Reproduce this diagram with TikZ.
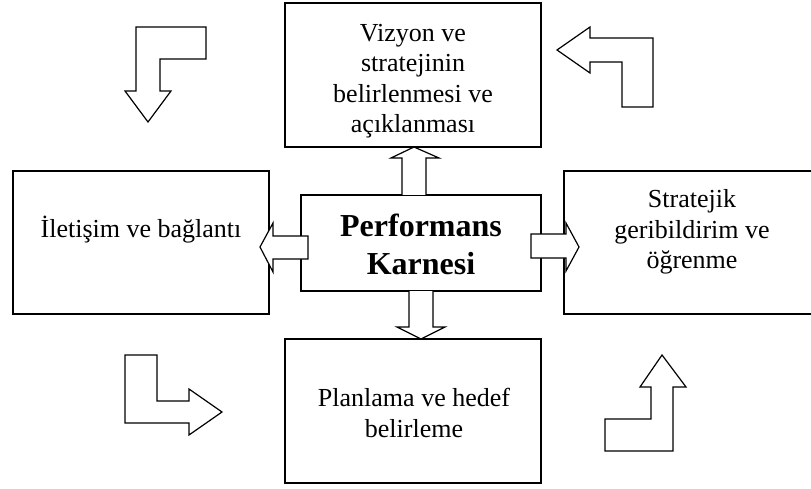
\documentclass[tikz,border=0pt]{standalone}
\usepackage{fontspec}
\setmainfont{Liberation Serif}
\begin{document}
\begin{tikzpicture}[x=1pt,y=-1pt,
  box/.style={draw,line width=1.2pt},
  blockarrow/.style={draw,fill=white,line width=1.2pt,line join=miter},
  txt/.style={align=center,inner sep=0pt,font=\fontsize{26}{30.5}\selectfont},
  bigtxt/.style={align=center,inner sep=0pt,font=\fontsize{32}{38}\selectfont\bfseries}]
\useasboundingbox (0,0) rectangle (811,489);

% boxes
\draw[box] (285,3) rectangle (541,147);
\draw[box] (301,195) rectangle (541,291);
\draw[box] (13,171) rectangle (269,314);
\draw[box] (564,171) rectangle (820,314);
\draw[box] (285,339) rectangle (541,483);

% block arrows leaving the centre box
\draw[blockarrow] (402,195) -- (402,158) -- (391,158) -- (414,147) -- (439,158) -- (426,158) -- (426,195);
\draw[blockarrow] (409,291) -- (409,327) -- (397,327) -- (421,339) -- (445,327) -- (433,327) -- (433,291);
\draw[blockarrow] (308,236) -- (273,236) -- (273,223) -- (260,247) -- (273,272) -- (273,259) -- (308,259) -- cycle;
\draw[blockarrow] (531,234) -- (566,234) -- (566,223) -- (579,247) -- (566,271) -- (566,258) -- (531,258) -- cycle;

% bent arrows in the corners
\draw[blockarrow] (136,27) -- (206,27) -- (206,59) -- (160,59) -- (160,91) -- (171,91) -- (148,122) -- (125,91) -- (136,91) -- cycle;
\draw[blockarrow] (557,50) -- (590,27) -- (590,38) -- (653,38) -- (653,107) -- (622,107) -- (622,62) -- (590,62) -- (590,73) -- cycle;
\draw[blockarrow] (125,355) -- (157,355) -- (157,401) -- (189,401) -- (189,389) -- (222,412) -- (189,435) -- (189,423) -- (125,423) -- cycle;
\draw[blockarrow] (662,355) -- (686,387) -- (673,387) -- (673,451) -- (605,451) -- (605,419) -- (651,419) -- (651,387) -- (640,387) -- cycle;

% labels
\node[txt] (vizyon) at (413,81) {Vizyon ve\\stratejinin\\belirlenmesi ve\\açıklanması};
\node[bigtxt] (karne) at (421,244) {Performans\\Karnesi};
\node[txt] (iletisim) at (141,230) {İletişim ve bağlantı};
\node[txt] (geri) at (692,232) {Stratejik\\geribildirim ve\\öğrenme};
\node[txt] (plan) at (414,413) {Planlama ve hedef\\belirleme};
\end{tikzpicture}
\end{document}
